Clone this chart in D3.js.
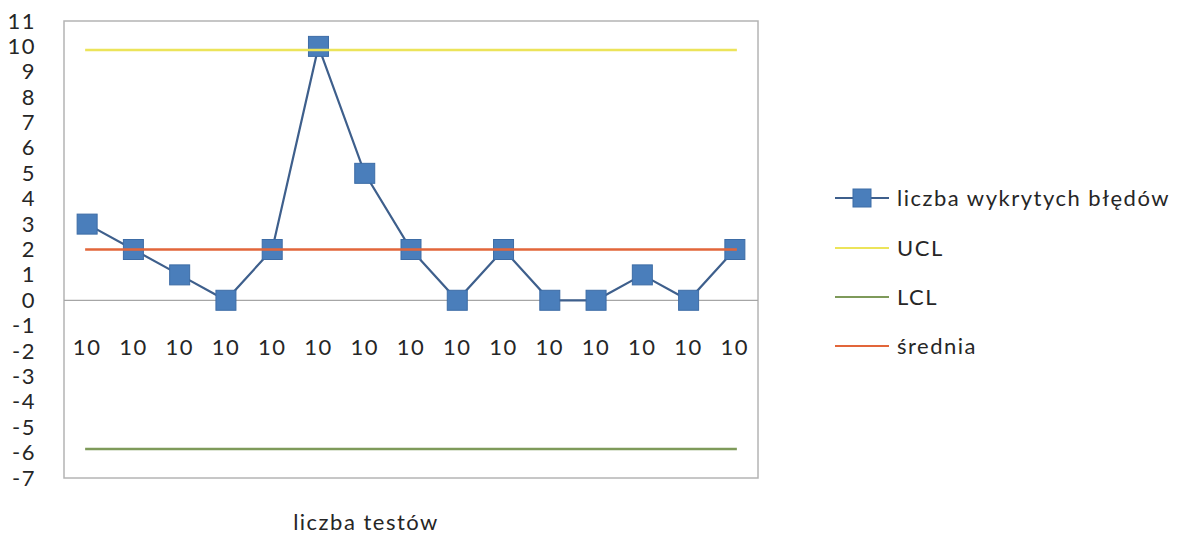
<!DOCTYPE html>
<html>
<head>
<meta charset="utf-8">
<script src="https://cdn.jsdelivr.net/npm/d3@7"></script>
<style>
  html, body { margin: 0; padding: 0; background: #fff; }
  svg { display: block; font-family: Lato, "Open Sans", sans-serif; }
  svg text { letter-spacing: 1.5px; }
</style>
</head>
<body>
<svg id="chart" width="1182" height="541"></svg>
<script>
// Sample sizes (number of tests per sample) used as category labels
const testCounts = ["10","10","10","10","10","10","10","10","10","10","10","10","10","10","10"];
// Number of defects found in each sample
const defects = [3, 2, 1, 0, 2, 10, 5, 2, 0, 2, 0, 0, 1, 0, 2];
// Control limits and centre line
const ucl = 9.86;
const lcl = -5.86;
const mean = 2;
const yTicks = [-7,-6,-5,-4,-3,-2,-1,0,1,2,3,4,5,6,7,8,9,10,11];

const seriesNames = ["liczba wykrytych błędów", "UCL", "LCL", "średnia"];
const colors = { data: "#4a7ebb", dataLine: "#3e5f8c", ucl: "#ece45a", lcl: "#7e9a5a", mean: "#e2663a" };
const FONT = 22;
const TEXT = "#262626";

const svg = d3.select("#chart");
const plot = { left: 64, top: 21, right: 758, bottom: 478 };

const x = d3.scaleBand()
  .domain(d3.range(testCounts.length))
  .range([plot.left, plot.right]);
const cx = i => x(i) + x.bandwidth() / 2;

const y = d3.scaleLinear().domain([-7, 11]).range([plot.bottom, plot.top]);

// plot area frame
svg.append("rect")
  .attr("x", plot.left).attr("y", plot.top)
  .attr("width", plot.right - plot.left).attr("height", plot.bottom - plot.top)
  .attr("fill", "#fff").attr("stroke", "#b4b4b4").attr("stroke-width", 1.5);

// y axis labels (plain hyphen for negatives)
const yAxis = svg.append("g")
  .attr("transform", `translate(36,0)`)
  .call(d3.axisLeft(y).tickValues(yTicks).tickSize(0).tickPadding(0).tickFormat(d => String(d)));
yAxis.select(".domain").remove();
yAxis.selectAll("text").attr("font-size", FONT).attr("fill", TEXT).attr("font-family", "Lato, sans-serif");

// horizontal axis at zero
svg.append("line")
  .attr("x1", plot.left).attr("x2", plot.right)
  .attr("y1", y(0)).attr("y2", y(0))
  .attr("stroke", "#a6a6a6").attr("stroke-width", 1.2);

// category labels below the zero line
const xAxis = svg.append("g")
  .attr("transform", `translate(0,${y(0)})`)
  .call(d3.axisBottom(x).tickSize(0).tickPadding(39).tickFormat(i => testCounts[i]));
xAxis.select(".domain").remove();
xAxis.selectAll("text").attr("font-size", FONT).attr("fill", TEXT).attr("font-family", "Lato, sans-serif");

// defects series
const lineGen = d3.line().x((d, i) => cx(i)).y(d => y(d));
svg.append("path")
  .datum(defects)
  .attr("d", lineGen)
  .attr("fill", "none")
  .attr("stroke", colors.dataLine)
  .attr("stroke-width", 2.2);

const ms = 20;
svg.selectAll("rect.marker")
  .data(defects)
  .join("rect")
  .attr("class", "marker")
  .attr("x", (d, i) => cx(i) - ms / 2)
  .attr("y", d => y(d) - ms / 2)
  .attr("width", ms).attr("height", ms)
  .attr("fill", colors.data)
  .attr("stroke", "#3d6ca6").attr("stroke-width", 1);

// control lines
const firstX = cx(0), lastX = cx(testCounts.length - 1);
[[ucl, colors.ucl], [lcl, colors.lcl], [mean, colors.mean]].forEach(([v, c]) => {
  svg.append("line")
    .attr("x1", firstX - 2).attr("x2", lastX + 2)
    .attr("y1", y(v)).attr("y2", y(v))
    .attr("stroke", c).attr("stroke-width", 2.5);
});

// legend
const legend = svg.append("g").attr("transform", "translate(835,0)");
const rowsY = [198, 248, 297, 346];
const legendColors = [colors.dataLine, colors.ucl, colors.lcl, colors.mean];
seriesNames.forEach((name, k) => {
  const g = legend.append("g").attr("transform", `translate(0,${rowsY[k]})`);
  g.append("line").attr("x1", 0).attr("x2", 54).attr("y1", 0).attr("y2", 0)
    .attr("stroke", legendColors[k]).attr("stroke-width", 2.2);
  if (k === 0) {
    g.append("rect").attr("x", 27 - 9).attr("y", -9).attr("width", 18).attr("height", 18)
      .attr("fill", colors.data).attr("stroke", "#3d6ca6").attr("stroke-width", 1);
  }
  g.append("text").attr("x", 62).attr("y", 0).attr("dy", "0.35em")
    .attr("font-size", FONT).attr("fill", TEXT).text(name);
});

// horizontal axis title
svg.append("text")
  .attr("x", 366).attr("y", 522).attr("dy", "0.35em")
  .attr("text-anchor", "middle").attr("font-size", FONT).attr("fill", TEXT)
  .text("liczba testów");
</script>
</body>
</html>
